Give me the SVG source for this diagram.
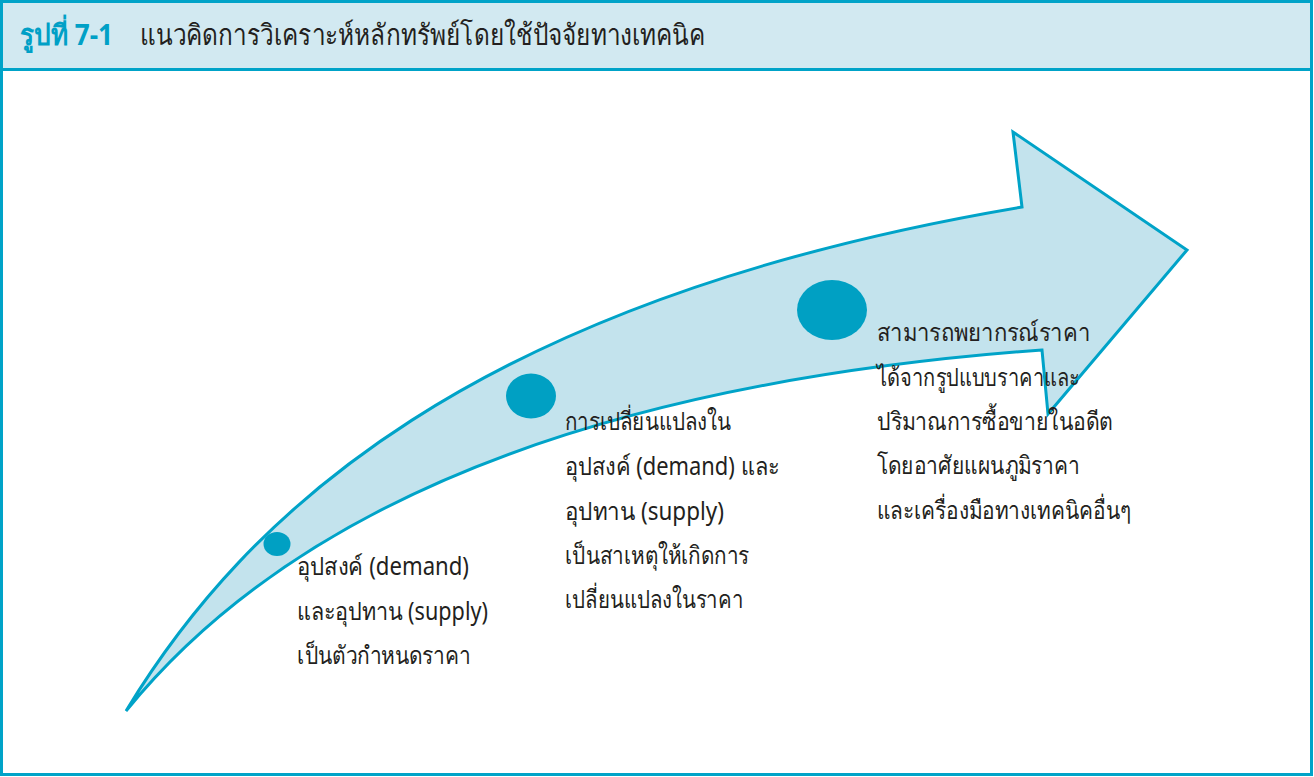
<svg xmlns="http://www.w3.org/2000/svg" width="1314" height="777" viewBox="0 0 1314 777">
<style>
.t{font-family:"Noto Sans","DejaVu Sans",sans-serif;font-size:25px;fill:#231f20}
.dot{fill:#00a0c3}
</style>
<rect x="0" y="0" width="1314" height="777" fill="#ffffff"/>
<g id="frame">
<rect x="1.5" y="1.5" width="1310" height="68" fill="#d2e9f1" stroke="#00a3c8" stroke-width="3"/>
<rect x="1.5" y="69.5" width="1310" height="705" fill="none" stroke="#00a3c8" stroke-width="3"/>
<text x="20" y="45" textLength="93" lengthAdjust="spacingAndGlyphs" style="font-family:'Noto Sans','DejaVu Sans',sans-serif;font-size:29px;font-weight:bold;fill:#00a0c6">รูปที่ 7-1</text>
<text x="140" y="45" textLength="565" lengthAdjust="spacingAndGlyphs" style="font-family:'Noto Sans','DejaVu Sans',sans-serif;font-size:29px;fill:#231f20">แนวคิดการวิเคราะห์หลักทรัพย์โดยใช้ปัจจัยทางเทคนิค</text>
</g>
<g id="arrow">
<path d="M126,711 C245,515 470,300 1022,207 L1013,132 L1187,250 L1048,414 L1042,350 C700,375 330,460 126,711 Z" fill="#c3e3ed" stroke="#00a3c8" stroke-width="3" stroke-linejoin="miter"/>
</g>
<g id="node1">
<ellipse class="dot" cx="277" cy="544" rx="13.5" ry="12"/>
<text class="t" x="297" y="575" textLength="172" lengthAdjust="spacingAndGlyphs">อุปสงค์ (demand)</text>
<text class="t" x="297" y="620" textLength="191" lengthAdjust="spacingAndGlyphs">และอุปทาน (supply)</text>
<text class="t" x="297" y="664" textLength="174" lengthAdjust="spacingAndGlyphs">เป็นตัวกำหนดราคา</text>
</g>
<g id="node2">
<ellipse class="dot" cx="531" cy="396" rx="25" ry="22.5"/>
<text class="t" x="565" y="430" textLength="166" lengthAdjust="spacingAndGlyphs">การเปลี่ยนแปลงใน</text>
<text class="t" x="565" y="475" textLength="214" lengthAdjust="spacingAndGlyphs">อุปสงค์ (demand) และ</text>
<text class="t" x="565" y="520" textLength="159" lengthAdjust="spacingAndGlyphs">อุปทาน (supply)</text>
<text class="t" x="565" y="564" textLength="184" lengthAdjust="spacingAndGlyphs">เป็นสาเหตุให้เกิดการ</text>
<text class="t" x="565" y="608" textLength="178" lengthAdjust="spacingAndGlyphs">เปลี่ยนแปลงในราคา</text>
</g>
<g id="node3">
<ellipse class="dot" cx="832" cy="310" rx="35" ry="30"/>
<text class="t" x="877" y="341" textLength="213" lengthAdjust="spacingAndGlyphs">สามารถพยากรณ์ราคา</text>
<text class="t" x="877" y="386" textLength="202" lengthAdjust="spacingAndGlyphs">ได้จากรูปแบบราคาและ</text>
<text class="t" x="877" y="430" textLength="236" lengthAdjust="spacingAndGlyphs">ปริมาณการซื้อขายในอดีต</text>
<text class="t" x="877" y="474" textLength="203" lengthAdjust="spacingAndGlyphs">โดยอาศัยแผนภูมิราคา</text>
<text class="t" x="877" y="519" textLength="254" lengthAdjust="spacingAndGlyphs">และเครื่องมือทางเทคนิคอื่นๆ</text>
</g>
</svg>
